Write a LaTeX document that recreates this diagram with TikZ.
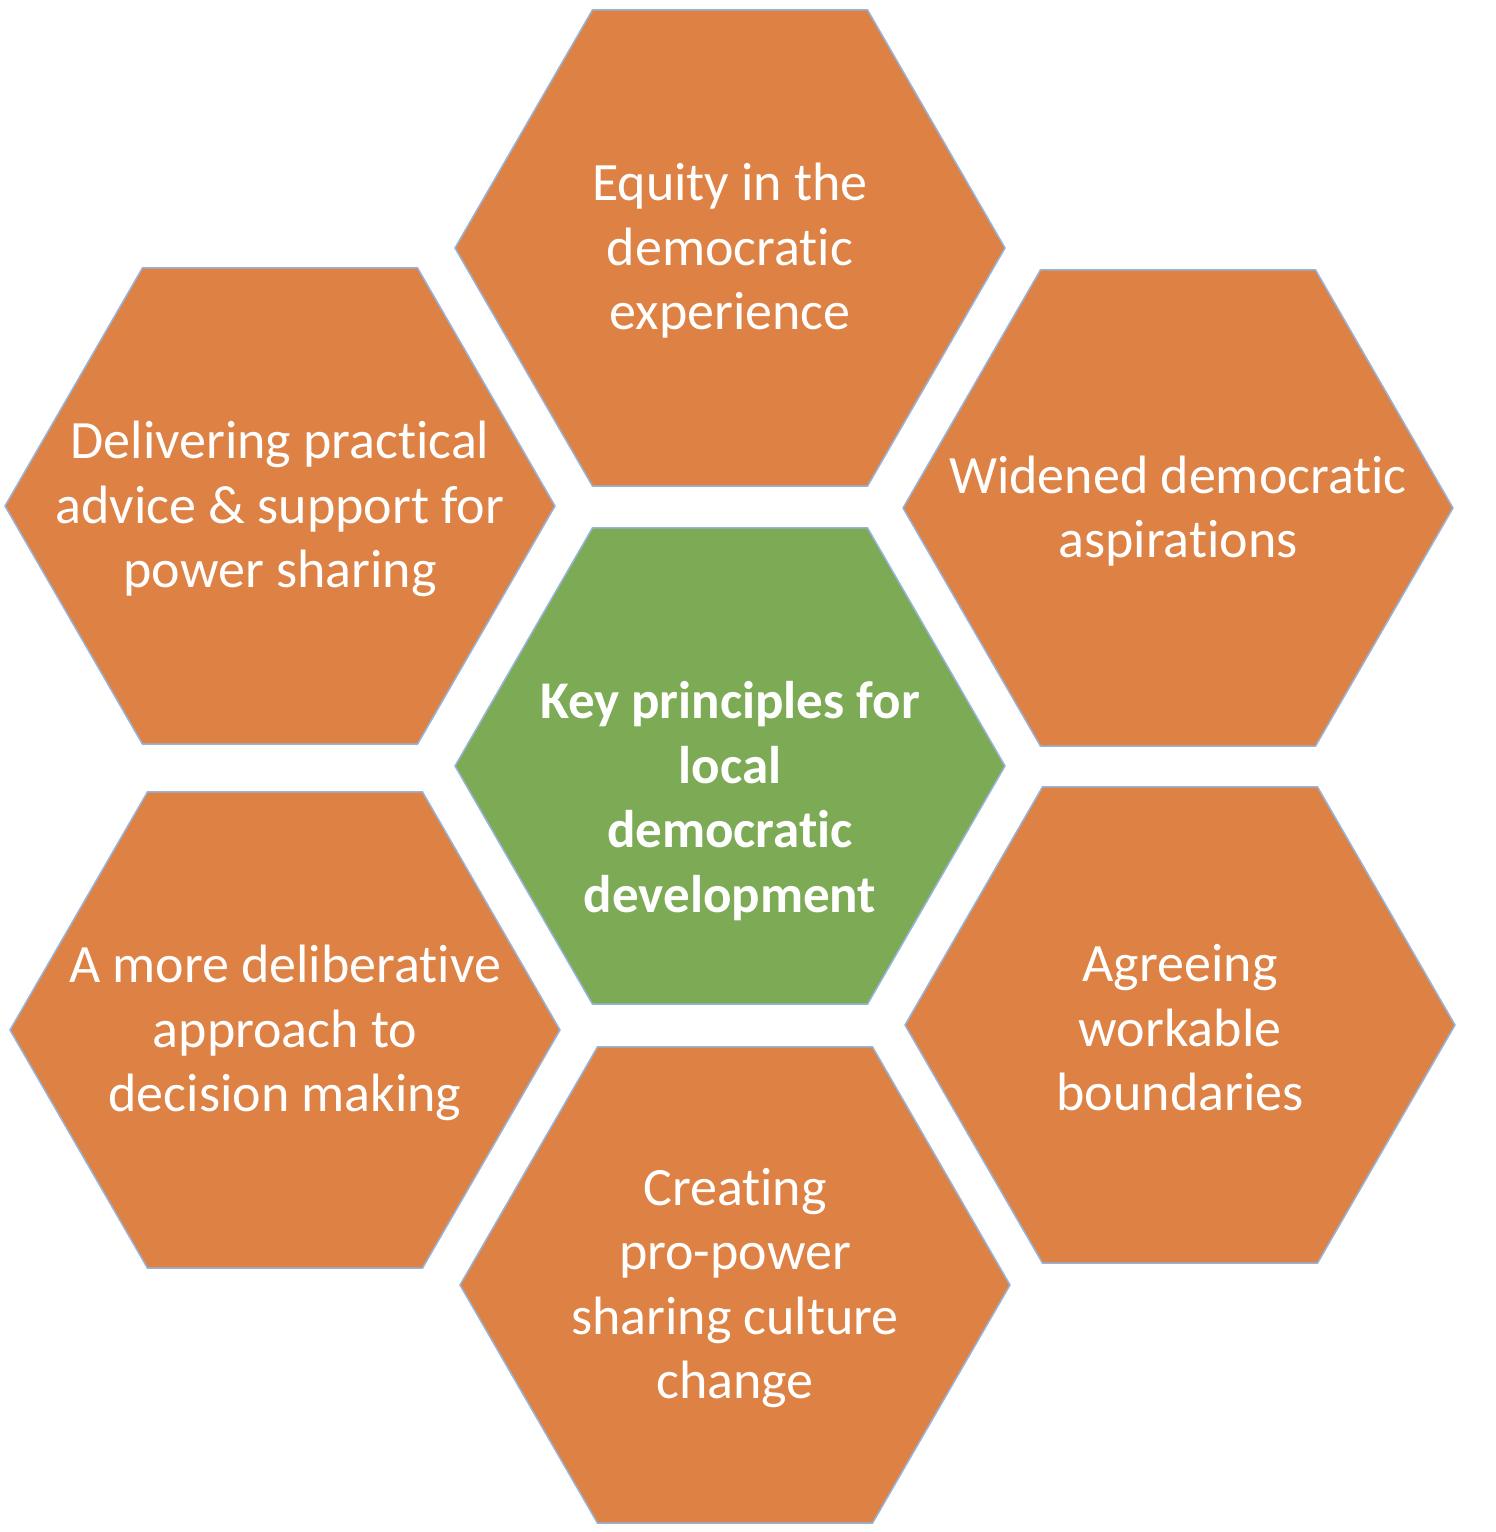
\documentclass[tikz,border=0pt]{standalone}
\usepackage{fontspec}
\setmainfont[Ligatures={NoCommon}]{Carlito}
\usetikzlibrary{shapes.geometric}
\definecolor{hexorange}{RGB}{221,130,68}
\definecolor{hexgreen}{RGB}{125,170,85}
\definecolor{hexline}{RGB}{150,180,220}
\tikzset{
  hexbox/.style={regular polygon, regular polygon sides=6, minimum size=550pt,
    inner sep=0pt, outer sep=0pt, draw=hexline, line width=1.5pt, fill=hexorange},
  hexcenter/.style={hexbox, fill=hexgreen},
  hextext/.style={text=white, align=center, font=\fontsize{54}{64.5}\selectfont, inner sep=0pt},
  hexbold/.style={hextext, font=\fontsize{53}{64.5}\selectfont\bfseries}
}
\begin{document}
\begin{tikzpicture}[x=1pt,y=-1pt]
\useasboundingbox[fill=white] (0,0) rectangle (1496,1532);
\node[hexbox] (top) at (730,248) {};
\node[hexbox] (ul) at (280,506) {};
\node[hexbox] (ur) at (1178,508) {};
\node[hexcenter] (mid) at (730,766) {};
\node[hexbox] (ll) at (285,1030) {};
\node[hexbox] (lr) at (1180,1025) {};
\node[hexbox] (bot) at (735,1285) {};
\node[hextext] (ttop) at ([yshift=-3pt]top.center) {Equity in the\\democratic\\experience};
\node[hextext] (tul) at ([yshift=-3pt]ul.center) {Delivering practical\\advice \& support for\\power sharing};
\node[hextext] (tur) at ([yshift=-3pt]ur.center) {Widened democratic\\aspirations};
\node[hexbold] (tmid) at ([yshift=-35pt]mid.center) {Key principles for\\local\\democratic\\development};
\node[hextext] (tll) at ([yshift=-3pt]ll.center) {A more deliberative\\approach to\\decision making};
\node[hextext] (tlr) at ([yshift=-3pt]lr.center) {Agreeing\\workable\\boundaries};
\node[hextext] (tbot) at ([yshift=-3pt]bot.center) {Creating\\pro-power\\sharing culture\\change};
\end{tikzpicture}
\end{document}
